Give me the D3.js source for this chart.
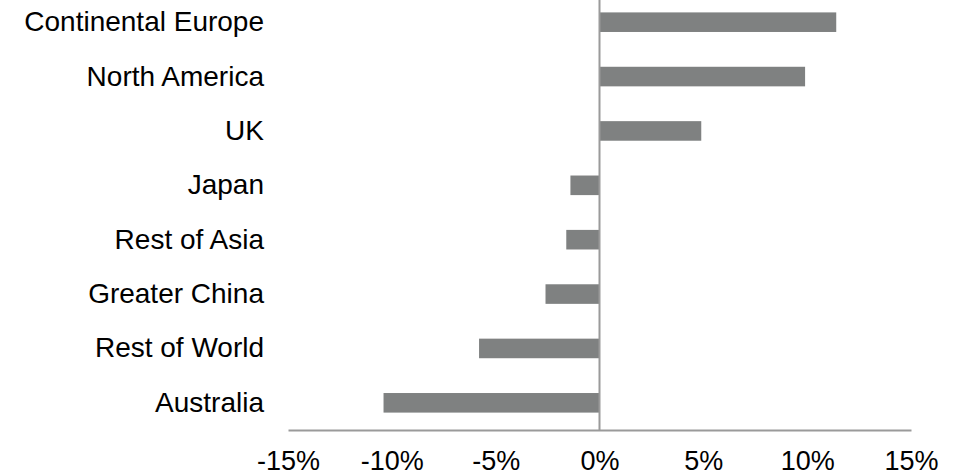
<!DOCTYPE html>
<html>
<head>
<meta charset="utf-8">
<script src="https://cdn.jsdelivr.net/npm/d3@7/dist/d3.min.js"></script>
<style>
  html, body { margin: 0; padding: 0; background: #fff; }
  svg { display: block; }
  text { font-family: "Liberation Sans", Arial, sans-serif; fill: #000; }
</style>
</head>
<body>
<svg id="chart" width="953" height="476"></svg>
<script>
// Change by region, in percent
const regions = ["Continental Europe", "North America", "UK", "Japan",
                 "Rest of Asia", "Greater China", "Rest of World", "Australia"];
const changes = [11.4, 9.9, 4.9, -1.4, -1.6, -2.6, -5.8, -10.4];
const xTicks = [-15, -10, -5, 0, 5, 10, 15];

const svg = d3.select("#chart");
const barColor = "#7f8181";
const lineColor = "#9a9a9a";

const x = d3.scaleLinear().domain([-15, 15]).range([288, 911]);
const y = d3.scaleBand().domain(regions).range([-5, 430])
  .paddingInner(0.64).paddingOuter(0.32);

// bars
svg.append("g").selectAll("rect")
  .data(regions.map((r, i) => ({ region: r, value: changes[i] })))
  .join("rect")
  .attr("x", d => x(Math.min(0, d.value)))
  .attr("width", d => Math.abs(x(d.value) - x(0)))
  .attr("y", d => y(d.region))
  .attr("height", y.bandwidth())
  .attr("fill", barColor);

// zero line
svg.append("line")
  .attr("x1", x(0)).attr("x2", x(0))
  .attr("y1", 0).attr("y2", 430)
  .attr("stroke", lineColor).attr("stroke-width", 2);

// bottom axis
const xAxis = svg.append("g")
  .attr("transform", "translate(0,430)")
  .call(d3.axisBottom(x).tickValues(xTicks)
    .tickFormat(d => `${d}%`).tickSize(0).tickPadding(21));
xAxis.select(".domain").attr("stroke", lineColor).attr("stroke-width", 2);
xAxis.selectAll("text").style("font-size", "27px")
  .style("font-family", "'Liberation Sans', Arial, sans-serif").attr("fill", "#000");

// category labels
const yAxis = svg.append("g")
  .attr("transform", "translate(264,0)")
  .call(d3.axisLeft(y).tickSize(0).tickPadding(0));
yAxis.select(".domain").remove();
yAxis.selectAll("text").style("font-size", "28px")
  .style("font-family", "'Liberation Sans', Arial, sans-serif").attr("fill", "#000");
</script>
</body>
</html>
